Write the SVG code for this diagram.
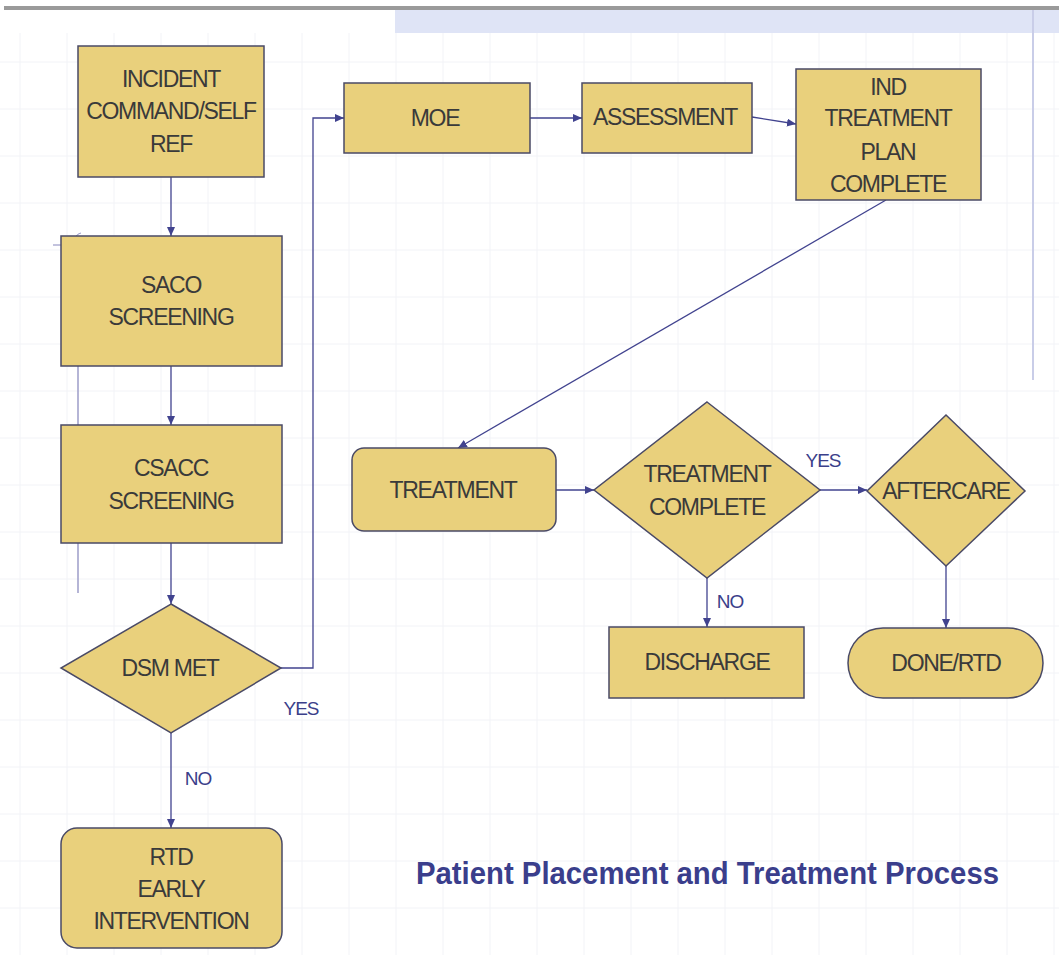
<svg xmlns="http://www.w3.org/2000/svg" width="1059" height="955" viewBox="0 0 1059 955">
<style>
.node{fill:#E9D07C;stroke:#4a4a66;stroke-width:1.5}
.t{font-family:"Liberation Sans",Arial,sans-serif;font-size:23px;letter-spacing:-1.3px;fill:#3a3a3a;text-anchor:middle;dominant-baseline:central}
.lbl{font-family:"Liberation Sans",Arial,sans-serif;font-size:19px;letter-spacing:-1px;fill:#3b3f8a;text-anchor:middle;dominant-baseline:central}
.c{fill:none;stroke:#41438f;stroke-width:1.3}
.g{stroke:#f2f3f7;stroke-width:1}
</style>
<defs>
<marker id="ah" markerWidth="10" markerHeight="8" refX="9" refY="4" orient="auto" markerUnits="userSpaceOnUse">
<path d="M0,0 L9,4 L0,8 Z" fill="#41438f"/>
</marker>
</defs>
<rect width="1059" height="955" fill="#ffffff"/>
<g id="grid">
<line class="g" x1="0" y1="62" x2="1059" y2="62"/>
<line class="g" x1="0" y1="109" x2="1059" y2="109"/>
<line class="g" x1="0" y1="156" x2="1059" y2="156"/>
<line class="g" x1="0" y1="203" x2="1059" y2="203"/>
<line class="g" x1="0" y1="250" x2="1059" y2="250"/>
<line class="g" x1="0" y1="297" x2="1059" y2="297"/>
<line class="g" x1="0" y1="344" x2="1059" y2="344"/>
<line class="g" x1="0" y1="391" x2="1059" y2="391"/>
<line class="g" x1="0" y1="438" x2="1059" y2="438"/>
<line class="g" x1="0" y1="485" x2="1059" y2="485"/>
<line class="g" x1="0" y1="532" x2="1059" y2="532"/>
<line class="g" x1="0" y1="579" x2="1059" y2="579"/>
<line class="g" x1="0" y1="626" x2="1059" y2="626"/>
<line class="g" x1="0" y1="673" x2="1059" y2="673"/>
<line class="g" x1="0" y1="720" x2="1059" y2="720"/>
<line class="g" x1="0" y1="767" x2="1059" y2="767"/>
<line class="g" x1="0" y1="814" x2="1059" y2="814"/>
<line class="g" x1="0" y1="861" x2="1059" y2="861"/>
<line class="g" x1="0" y1="908" x2="1059" y2="908"/>
<line class="g" x1="20" y1="33" x2="20" y2="955"/>
<line class="g" x1="67" y1="33" x2="67" y2="955"/>
<line class="g" x1="114" y1="33" x2="114" y2="955"/>
<line class="g" x1="161" y1="33" x2="161" y2="955"/>
<line class="g" x1="208" y1="33" x2="208" y2="955"/>
<line class="g" x1="255" y1="33" x2="255" y2="955"/>
<line class="g" x1="302" y1="33" x2="302" y2="955"/>
<line class="g" x1="349" y1="33" x2="349" y2="955"/>
<line class="g" x1="396" y1="33" x2="396" y2="955"/>
<line class="g" x1="443" y1="33" x2="443" y2="955"/>
<line class="g" x1="490" y1="33" x2="490" y2="955"/>
<line class="g" x1="537" y1="33" x2="537" y2="955"/>
<line class="g" x1="584" y1="33" x2="584" y2="955"/>
<line class="g" x1="631" y1="33" x2="631" y2="955"/>
<line class="g" x1="678" y1="33" x2="678" y2="955"/>
<line class="g" x1="725" y1="33" x2="725" y2="955"/>
<line class="g" x1="772" y1="33" x2="772" y2="955"/>
<line class="g" x1="819" y1="33" x2="819" y2="955"/>
<line class="g" x1="866" y1="33" x2="866" y2="955"/>
<line class="g" x1="913" y1="33" x2="913" y2="955"/>
<line class="g" x1="960" y1="33" x2="960" y2="955"/>
<line class="g" x1="1007" y1="33" x2="1007" y2="955"/>
<line class="g" x1="1054" y1="33" x2="1054" y2="955"/>
</g>
<g id="header">
<rect x="4" y="6" width="1055" height="4" fill="#9a9a9a"/>
<rect x="395" y="10" width="664" height="23" fill="#dfe4f6"/>
<line x1="1033" y1="10" x2="1033" y2="380" stroke="#c9cde8" stroke-width="2"/>
</g>
<g id="stray">
<line x1="78" y1="236" x2="78" y2="593" stroke="#9c9cc8" stroke-width="1.5"/>
<path d="M74,241 Q76,234 81,233" fill="none" stroke="#9c9cc8" stroke-width="1.2"/>
<line x1="53" y1="245" x2="62" y2="245" stroke="#9c9cc8" stroke-width="1.2"/>
</g>
<g id="connectors">
<line class="c" x1="171" y1="177" x2="171" y2="236" marker-end="url(#ah)"/>
<line class="c" x1="171" y1="366" x2="171" y2="425" marker-end="url(#ah)"/>
<line class="c" x1="171" y1="543" x2="171" y2="604" marker-end="url(#ah)"/>
<polyline class="c" points="280,668 313,668 313,118 344,118" marker-end="url(#ah)"/>
<line class="c" x1="171" y1="733" x2="171" y2="828" marker-end="url(#ah)"/>
<line class="c" x1="530" y1="118" x2="582" y2="118" marker-end="url(#ah)"/>
<line class="c" x1="752" y1="117" x2="796" y2="124" marker-end="url(#ah)"/>
<line class="c" x1="886" y1="200" x2="458" y2="448" marker-end="url(#ah)"/>
<line class="c" x1="556" y1="490" x2="594" y2="490" marker-end="url(#ah)"/>
<line class="c" x1="820" y1="490" x2="867" y2="490" marker-end="url(#ah)"/>
<line class="c" x1="707" y1="578" x2="707" y2="627" marker-end="url(#ah)"/>
<line class="c" x1="946" y1="566" x2="946" y2="628" marker-end="url(#ah)"/>
<text class="lbl" x="301" y="708">YES</text>
<text class="lbl" x="198" y="778">NO</text>
<text class="lbl" x="823" y="460">YES</text>
<text class="lbl" x="730" y="601">NO</text>
</g>
<g id="n-incident">
<rect class="node" x="78" y="46" width="186" height="131"/>
<text class="t" x="171" y="79">INCIDENT</text>
<text class="t" x="171" y="111">COMMAND/SELF</text>
<text class="t" x="171" y="144">REF</text>
</g>
<g id="n-saco">
<rect class="node" x="61" y="236" width="221" height="130"/>
<text class="t" x="171" y="285">SACO</text>
<text class="t" x="171" y="317">SCREENING</text>
</g>
<g id="n-csacc">
<rect class="node" x="61" y="425" width="221" height="118"/>
<text class="t" x="171" y="468">CSACC</text>
<text class="t" x="171" y="501">SCREENING</text>
</g>
<g id="n-dsm">
<polygon class="node" points="171,604 281,668 171,733 61,668"/>
<text class="t" x="170" y="668">DSM MET</text>
</g>
<g id="n-rtd">
<rect class="node" x="61" y="828" width="221" height="120" rx="16"/>
<text class="t" x="171" y="857">RTD</text>
<text class="t" x="171" y="889">EARLY</text>
<text class="t" x="171" y="921">INTERVENTION</text>
</g>
<g id="n-moe">
<rect class="node" x="344" y="83" width="186" height="70"/>
<text class="t" x="435" y="118">MOE</text>
</g>
<g id="n-assessment">
<rect class="node" x="582" y="83" width="170" height="70"/>
<text class="t" x="665" y="117">ASSESSMENT</text>
</g>
<g id="n-ind">
<rect class="node" x="796" y="69" width="185" height="131"/>
<text class="t" x="888" y="87">IND</text>
<text class="t" x="888" y="118">TREATMENT</text>
<text class="t" x="888" y="152">PLAN</text>
<text class="t" x="888" y="184">COMPLETE</text>
</g>
<g id="n-treatment">
<rect class="node" x="352" y="448" width="204" height="83" rx="12"/>
<text class="t" x="453" y="490">TREATMENT</text>
</g>
<g id="n-tc">
<polygon class="node" points="707,402 820,490 707,578 594,490"/>
<text class="t" x="707" y="474">TREATMENT</text>
<text class="t" x="707" y="507">COMPLETE</text>
</g>
<g id="n-aftercare">
<polygon class="node" points="946,415 1025,491 946,566 867,491"/>
<text class="t" x="946" y="491">AFTERCARE</text>
</g>
<g id="n-discharge">
<rect class="node" x="609" y="627" width="195" height="71"/>
<text class="t" x="707" y="662">DISCHARGE</text>
</g>
<g id="n-done">
<rect class="node" x="848" y="628" width="195" height="70" rx="35"/>
<text class="t" x="946" y="663">DONE/RTD</text>
</g>
<g id="title">
<text x="416" y="884" font-family="'Liberation Sans',Arial,sans-serif" font-size="31" font-weight="bold" fill="#3a3e8c" textLength="583" lengthAdjust="spacingAndGlyphs">Patient Placement and Treatment Process</text>
</g>
</svg>
